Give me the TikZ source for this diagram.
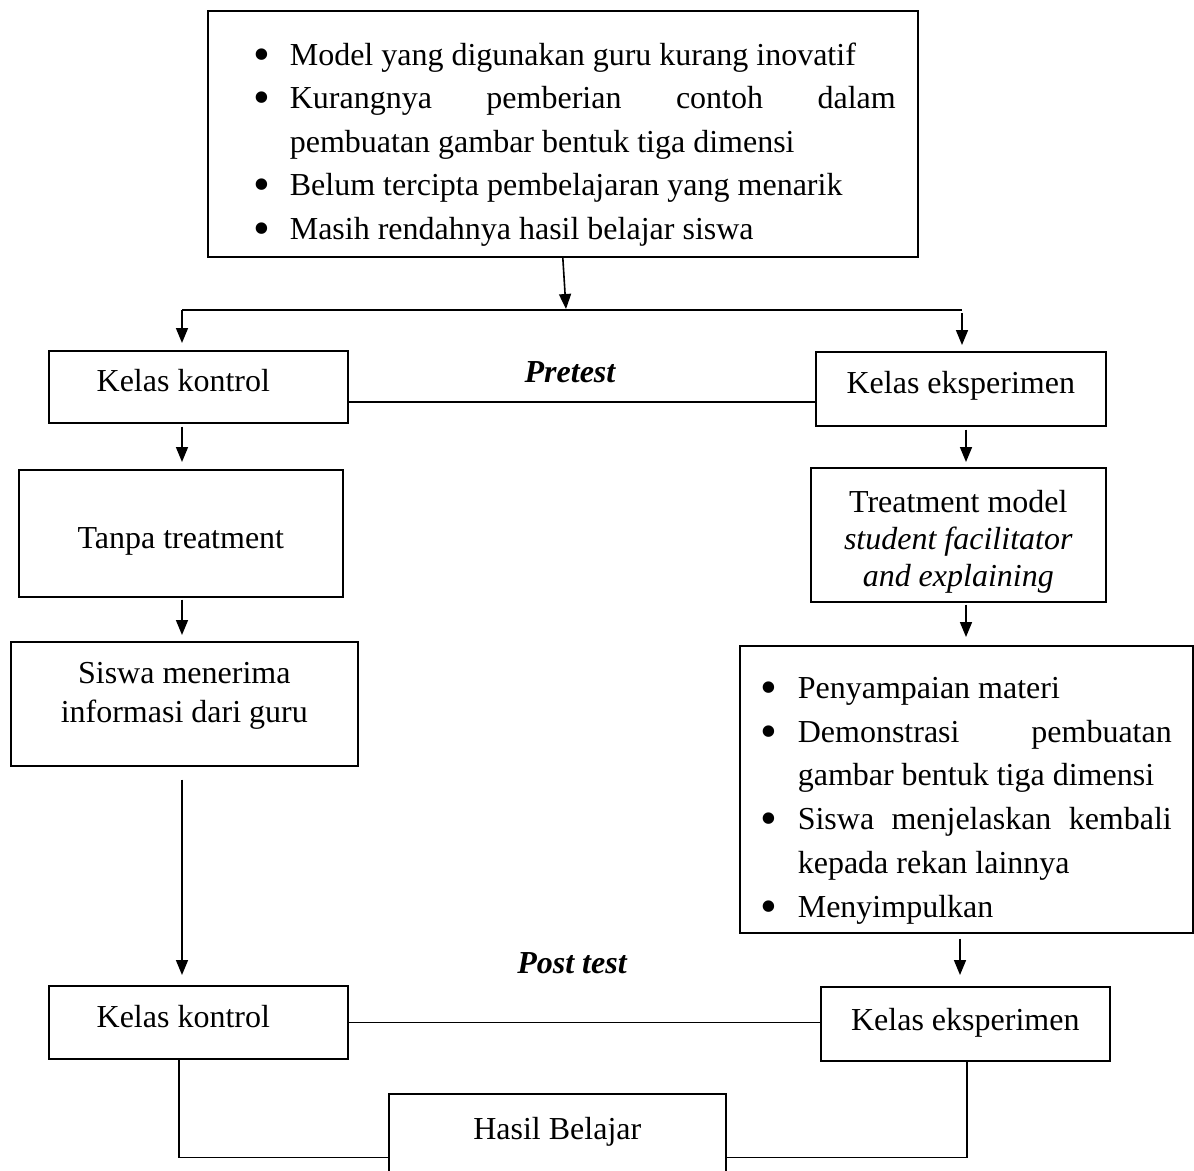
\documentclass[tikz,border=0pt]{standalone}
\usepackage{fontspec}
\usepackage{graphicx}
\setmainfont{Liberation Serif}
\usetikzlibrary{arrows.meta}
\hyphenpenalty=10000
\exhyphenpenalty=10000
\newcommand\bigbul{\raisebox{-5pt}{\scalebox{1.5}{\textbullet}}}
\newenvironment{blist}[2]{\begin{list}{\hspace*{#2}\bigbul}{%
  \setlength\leftmargin{#1}\setlength\labelwidth{#1}\setlength\labelsep{0pt}%
  \setlength\itemsep{0pt}\setlength\parsep{0pt}\setlength\topsep{0pt}%
  \setlength\partopsep{0pt}\setlength\itemindent{0pt}\setlength\rightmargin{0pt}%
  \renewcommand\makelabel[1]{##1\hfill}}}{\end{list}}
\begin{document}
\begin{tikzpicture}[x=1pt,y=-1pt,
  box/.style={draw, line width=1.6pt, inner sep=0pt, anchor=north west,
    font=\fontsize{32}{38}\selectfont},
  arr/.style={line width=1.6pt, -{Triangle[length=15pt,width=12pt]}},
  ln/.style={line width=1.6pt},
  lbl/.style={inner sep=0pt, anchor=base, font=\fontsize{32}{38}\selectfont\bfseries\itshape}]
\clip (0,0) rectangle (1194,1170);
\fill[white] (0,0) rectangle (1194,1170);

% boxes
\node[box, minimum width=710pt, minimum height=246pt, text width=666pt, align=justify,
  font=\fontsize{32}{43.5}\selectfont] (top) at (207,10)
  {\begin{blist}{60pt}{24pt}
   \item Model yang digunakan guru kurang inovatif
   \item Kurangnya pemberian contoh dalam\linebreak pembuatan gambar bentuk tiga dimensi
   \item Belum tercipta pembelajaran yang menarik
   \item Masih rendahnya hasil belajar siswa
   \end{blist}};

\node[box, minimum width=299pt, text height=41pt, text depth=31pt] (kk1) at (48,350)
  {\hspace*{-30pt}Kelas kontrol};
\node[box, minimum width=290pt, text height=42pt, text depth=32pt] (ke1) at (815,351)
  {Kelas eksperimen};
\node[box, minimum width=324pt, text height=79pt, text depth=48pt] (tt) at (18,469)
  {Tanpa treatment};
\node[box, minimum width=295pt, text height=45pt, text depth=89pt,
  font=\fontsize{32}{37}\selectfont] (tm) at (810,467)
  {\begin{tabular}[t]{@{}c@{}}Treatment model\\ \textit{student facilitator}\\ \textit{and explaining}\end{tabular}};
\node[box, minimum width=347pt, text height=42pt, text depth=82pt,
  font=\fontsize{32}{39}\selectfont] (sm) at (10,641)
  {\begin{tabular}[t]{@{}c@{}}Siswa menerima\\ informasi dari guru\end{tabular}};
\node[box, minimum width=453pt, minimum height=287pt, text width=411pt, align=justify,
  font=\fontsize{32}{43.8}\selectfont] (lst) at (739,645)
  {\begin{blist}{37pt}{0pt}
   \item Penyampaian materi
   \item Demonstrasi pembuatan\linebreak gambar bentuk tiga dimensi
   \item Siswa menjelaskan kembali\linebreak kepada rekan lainnya
   \item Menyimpulkan
   \end{blist}};
\node[box, minimum width=299pt, text height=42pt, text depth=31pt] (kk2) at (48,985)
  {\hspace*{-30pt}Kelas kontrol};
\node[box, minimum width=289pt, text height=44pt, text depth=30pt] (ke2) at (820,986)
  {Kelas eksperimen};
\node[box, minimum width=337pt, text height=46pt, text depth=81pt] (hb) at (388,1093)
  {Hasil Belajar};

% labels
\node[lbl] (pre) at (570,382) {Pretest};
\node[lbl] (post) at (572,973) {Post test};

% connectors
\coordinate (jn) at (566,309);
\coordinate (jl) at (182,310);
\coordinate (jr) at (962,310);
\coordinate (xl) at (182,0);
\coordinate (xr) at (966,0);
\coordinate (xr2) at (960,0);
\coordinate (xb1) at (179,0);
\coordinate (xb2) at (967,0);

\draw[arr] (top.south) -- (jn);
\draw[ln] (jl) -- (jr);
\draw[arr, shorten >=7pt] (jl) -- (jl |- kk1.north);
\draw[arr, shorten <=3pt, shorten >=6pt] (jr) -- (jr |- ke1.north);
\draw[ln] ([yshift=-15pt]kk1.east) -- ([yshift=-15pt]kk1.east -| ke1.west);

\draw[arr, shorten <=3pt, shorten >=7pt] (kk1.south -| xl) -- (tt.north -| xl);
\draw[arr, shorten <=2pt, shorten >=6pt] (tt.south -| xl) -- (sm.north -| xl);
\draw[arr, shorten <=13pt, shorten >=10pt] (sm.south -| xl) -- (kk2.north -| xl);

\draw[arr, shorten <=3pt, shorten >=5pt] (ke1.south -| xr) -- (tm.north -| xr);
\draw[arr, shorten <=2pt, shorten >=8pt] (tm.south -| xr) -- (lst.north -| xr);
\draw[arr, shorten <=5pt, shorten >=11pt] (lst.south -| xr2) -- (ke2.north -| xr2);

\draw[ln] (kk2.east) -- (kk2.east -| ke2.west);
\draw[ln] (kk2.south -| xb1) |- (hb.west);
\draw[ln] (ke2.south -| xb2) |- (hb.east);
\end{tikzpicture}
\end{document}
